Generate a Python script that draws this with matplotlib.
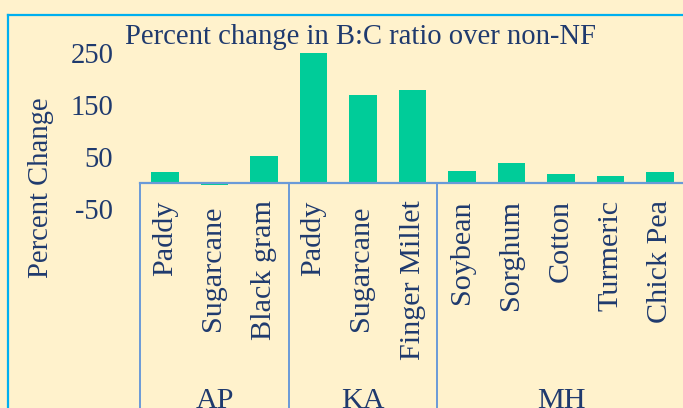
import matplotlib
matplotlib.use("Agg")
import matplotlib.pyplot as plt
from matplotlib.transforms import blended_transform_factory
from matplotlib.lines import Line2D

# ---- data ----
crops = ["Paddy", "Sugarcane ", "Black gram",
         "Paddy", "Sugarcane ", "Finger Millet",
         "Soybean", "Sorghum", "Cotton", "Turmeric", "Chick Pea"]
values = [22, -4, 53, 250, 170, 179, 23, 40, 17, 14, 21]
groups = ["AP", "KA", "MH"]
group_sizes = [3, 3, 5]
yticks = [-50, 50, 150, 250]
title = "Percent change in B:C ratio over non-NF"
ylabel = "Percent Change"

# ---- style ----
W, H = 683, 408
DPI = 100
BG = "#FFF2CC"
BAR = "#00CC99"
TXT = "#1F3A6E"
AXC = "#6A9AD8"
BORDER = "#00B0F0"
FS = 20.6
FS_CAT = 21.7
FONT = ["Liberation Serif", "DejaVu Serif"]
plt.rcParams["font.family"] = FONT

fig = plt.figure(figsize=(W / DPI, H / DPI), dpi=DPI, facecolor=BG)

def fx(px):
    return px / W

def fy(py):
    return 1 - py / H

# axes: x from 140.25 px (11 slots of 49.5 px), y from -50 at 209.3 px to 250 at 53.3 px
left_px, slot = 140.25, 49.5
n = len(crops)
ax = fig.add_axes([fx(left_px), fy(209.3), (slot * n) / W, (209.3 - 53.3) / H])
ax.patch.set_visible(False)

x = list(range(n))
ax.bar(x, values, width=0.56, color=BAR, zorder=2)
ax.set_xlim(-0.5, n - 0.5)
ax.set_ylim(-50, 250)
for s in ax.spines.values():
    s.set_visible(False)
ax.set_xticks([])
ax.set_yticks(yticks)
ax.set_yticklabels([str(v) for v in yticks])
ax.tick_params(axis="y", length=0, pad=19.4, labelsize=FS, labelcolor=TXT)

# category axis line at 0
ax.axhline(0, color=AXC, lw=1.6, zorder=3, clip_on=False)

# group separators
bounds = [-0.5]
for g in group_sizes:
    bounds.append(bounds[-1] + g)
xt = ax.get_xaxis_transform()
zero_frac = (0 - (-50)) / 300
ax.vlines(bounds, -3, zero_frac, transform=xt, color=AXC, lw=1.4, clip_on=False, zorder=3)

# category labels
bt = blended_transform_factory(ax.transData, fig.transFigure)
for i, c in enumerate(crops):
    ax.text(i, fy(200.0), c, rotation=90, ha="center", va="top", transform=bt,
            fontsize=FS_CAT, color=TXT, clip_on=False)

# group labels
start = 0
for g, sz in zip(groups, group_sizes):
    center = start + (sz - 1) / 2
    ax.text(center, fy(388), g, ha="center", va="top", transform=bt,
            fontsize=FS_CAT, color=TXT, clip_on=False)
    start += sz

# title and y label
fig.text(fx(125), fy(44), title, ha="left", va="baseline", fontsize=FS, color=TXT)
fig.text(fx(41), fy(188), ylabel, rotation=90, ha="center", va="center", fontsize=FS, color=TXT)

# chart border (left and top visible)
fig.add_artist(Line2D([fx(7.5), fx(7.5)], [fy(14.5), -0.1], color=BORDER, lw=1.6, transform=fig.transFigure))
fig.add_artist(Line2D([fx(7.5), 1.1], [fy(14.5), fy(14.5)], color=BORDER, lw=1.6, transform=fig.transFigure))

fig.savefig("out.png", dpi=DPI, facecolor=BG)
